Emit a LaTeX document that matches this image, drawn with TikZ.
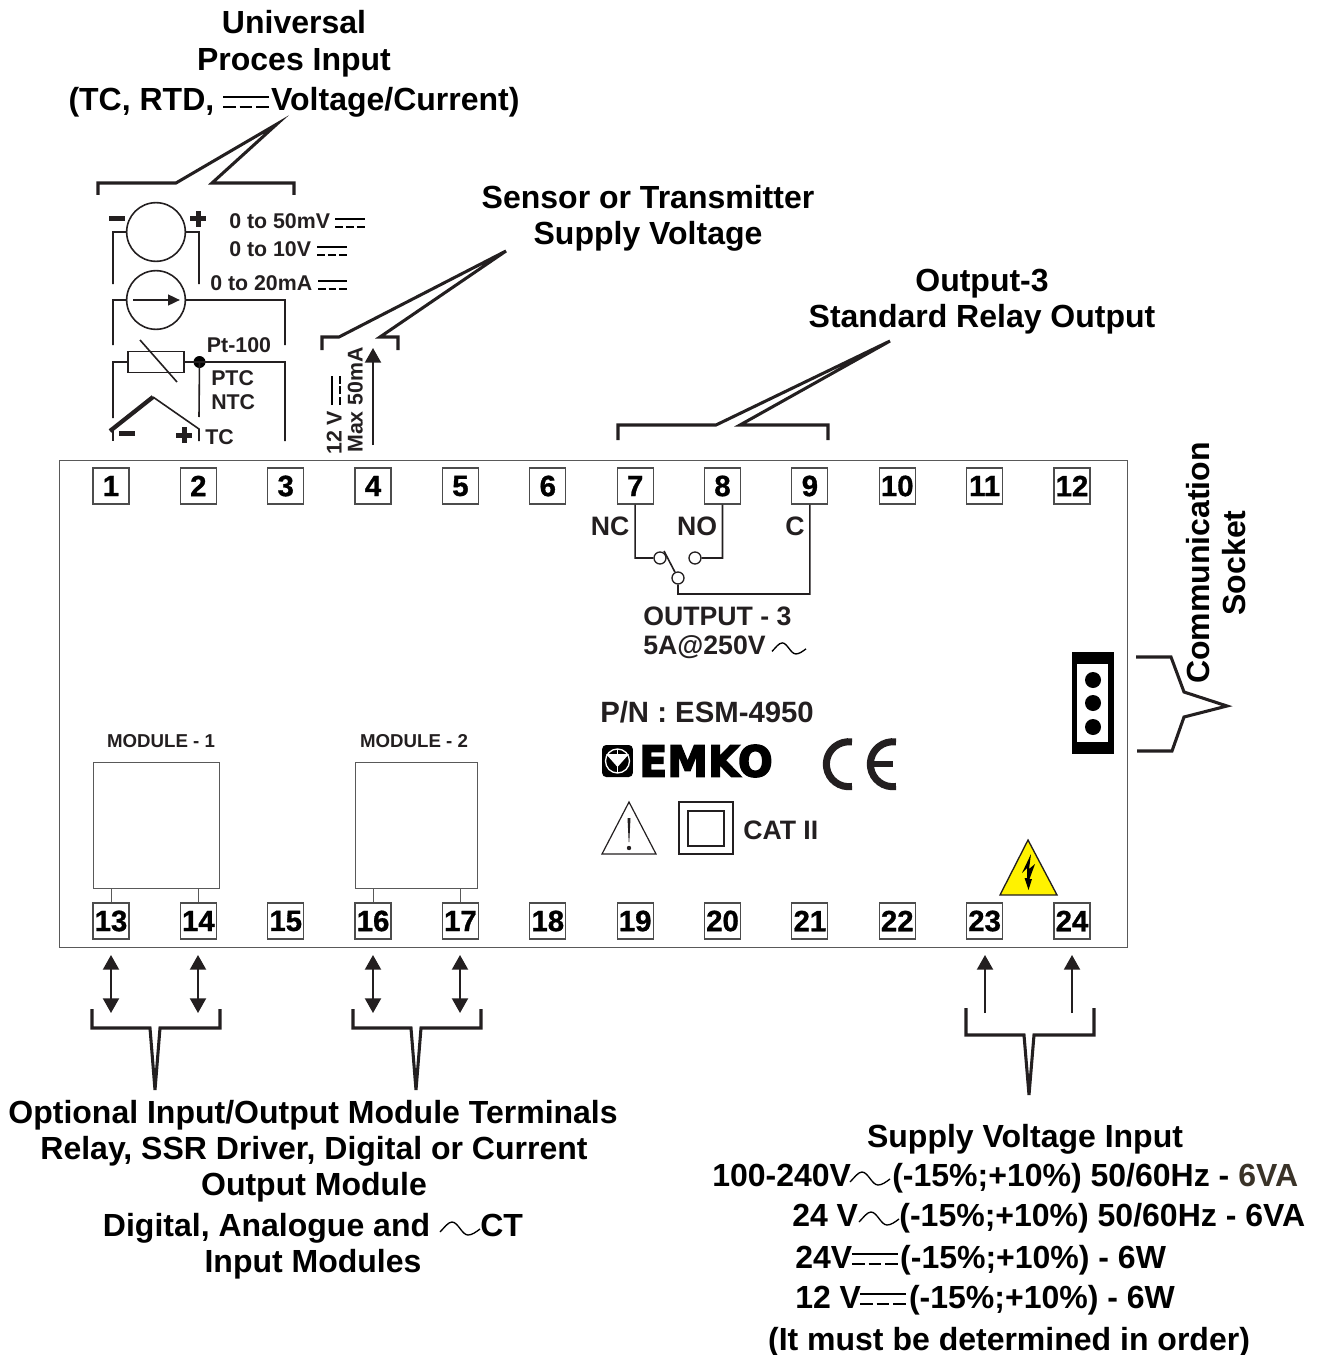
\documentclass[tikz,border=0pt]{standalone}
\usepackage{fontspec}
\setmainfont{Liberation Sans}
\newfontfamily\logofont[FakeBold=3.5]{DejaVu Sans Bold}
\newfontfamily\termfont[FakeBold=1]{Liberation Sans Bold}
\usetikzlibrary{positioning,arrows.meta}
\definecolor{inkdark}{HTML}{231F20}
\definecolor{inkbrown}{HTML}{3A3328}
\definecolor{warnyellow}{HTML}{FFF200}
\newcommand{\gapwd}[1]{\hspace*{#1pt}}
\begin{document}
\begin{tikzpicture}[x=0.75pt,y=-0.75pt,node distance=65.52pt,
    term node/.style={draw=black!70,line width=0.9pt,fill=white,minimum size=27pt,inner sep=0pt,font=\termfont\fontsize{22}{22}\selectfont},
    big label/.style={inner sep=0pt,text height=17.2pt,text depth=0pt,font=\bfseries\fontsize{24}{26}\selectfont},
    mid label/.style={inner sep=0pt,text=inkdark,text height=14.3pt,text depth=0pt,font=\bfseries\fontsize{20}{22}\selectfont},
    small label/.style={inner sep=0pt,text=inkdark,text height=11.5pt,text depth=0pt,font=\bfseries\fontsize{16}{18}\selectfont},
    tiny label/.style={inner sep=0pt,text=inkdark,text height=10pt,text depth=0pt,font=\bfseries\fontsize{14}{16}\selectfont},
    bracket/.style={draw=inkdark,line width=2.3pt,miter limit=12},
    wire/.style={draw=inkdark,line width=1.2pt},
    thin box/.style={draw=black!65,line width=0.7pt},
    contact/.style={circle,draw=inkdark,fill=white,line width=1pt,minimum size=9pt,inner sep=0pt},
    flow arrow/.style={draw=inkdark,line width=1.5pt,-{Triangle[length=11pt,width=12pt]}},
    both arrow/.style={draw=inkdark,line width=1.5pt,{Triangle[length=11pt,width=12pt]}-{Triangle[length=11pt,width=12pt]}},
    dc sym/.pic={\pgfmathsetmacro{\dashon}{#1*0.2045}\pgfmathsetmacro{\dashoff}{#1*0.068}\pgfmathsetmacro{\dashgap}{#1*0.12+4.5}
      \draw[line width=1.1pt] (0,0) -- (#1,0);
      \draw[line width=1.1pt,dash pattern=on \dashon pt off \dashoff pt] (0,\dashgap) -- (#1,\dashgap);},
    dc sym/.default=30,
    ac sym/.pic={\draw[line width=1pt] (0,4) .. controls (4,0) and (8,-6) .. (12,-6) .. controls (18,-6) and (22,7) .. (28,7) .. controls (32,7) and (36,4) .. (40,1);}]

\useasboundingbox (0,0) rectangle (1324,1355);

% case
\draw[thin box] (59,460) rectangle (1127,947);

% terminals
\node[term node] (1) at (111,486) {1};
\node[term node] (2) [right of=1] {2};
\node[term node] (3) [right of=2] {3};
\node[term node] (4) [right of=3] {4};
\node[term node] (5) [right of=4] {5};
\node[term node] (6) [right of=5] {6};
\node[term node] (7) [right of=6] {7};
\node[term node] (8) [right of=7] {8};
\node[term node] (9) [right of=8] {9};
\node[term node] (10) [right of=9] {10};
\node[term node] (11) [right of=10] {11};
\node[term node] (12) [right of=11] {12};

\node[term node] (13) at (111,921) {13};
\node[term node] (14) [right of=13] {14};
\node[term node] (15) [right of=14] {15};
\node[term node] (16) [right of=15] {16};
\node[term node] (17) [right of=16] {17};
\node[term node] (18) [right of=17] {18};
\node[term node] (19) [right of=18] {19};
\node[term node] (20) [right of=19] {20};
\node[term node] (21) [right of=20] {21};
\node[term node] (22) [right of=21] {22};
\node[term node] (23) [right of=22] {23};
\node[term node] (24) [right of=23] {24};

% headings
\node[big label] (universal) at (294,22) {Universal};
\node[big label] (proces) at (294,59) {Proces Input};
\node[big label] (tcrtd) at (294,99) {(TC, RTD, \gapwd{36}Voltage/Current)};
\pic at (223,97) {dc sym=46};

\node[big label] (sensor) at (648,197) {Sensor or Transmitter};
\node[big label] (supply) at (648,233) {Supply Voltage};

\node[big label] (outthree) at (982,280) {Output-3};
\node[big label] (relay) at (982,316) {Standard Relay Output};

\node[big label,rotate=90] (comm) at (1198,563) {Communication};
\node[big label,rotate=90] (socket) at (1234,563) {Socket};

% top brackets
\draw[bracket] (98,195) -- (98,183) -- (176,183) -- (277,124) -- (212,183) -- (294,183) -- (294,195);
\draw[bracket] (322,350) -- (322,337) -- (339,337) -- (506,251) -- (380,337) -- (398,337) -- (398,350);
\draw[bracket] (618,440) -- (618,425) -- (716,425) -- (890,341) -- (740,425) -- (828,425) -- (828,440);
\draw[bracket] (1136,657) -- (1171,657) -- (1184,692) -- (1227,706) -- (1184,717) -- (1172,751) -- (1137,751);

% input side
\node[circle,draw=inkdark,line width=1.2pt,minimum size=44pt,inner sep=0pt] (volt) at (156,232) {};
\node[circle,draw=inkdark,line width=1.2pt,minimum size=44pt,inner sep=0pt] (amp) at (156,300) {};
\node[rectangle,draw=inkdark,line width=1.2pt,minimum width=42pt,minimum height=16pt,inner sep=0pt] (rtd) at (156,362) {};
\node[circle,fill=black,minimum size=9pt,inner sep=0pt] (rtddot) at (199.5,362) {};

\coordinate (voltl) at (113,284);
\coordinate (voltr) at (199,284);
\coordinate (ampl) at (113,345);
\coordinate (ampr) at (285,345);
\coordinate (rtdl) at (113,418);
\coordinate (rtdr) at (285,441);
\coordinate (rtdd) at (199,417);
\coordinate (arrowa) at (133,300);
\coordinate (arrowb) at (180,300);
\coordinate (slasha) at (140,340);
\coordinate (slashb) at (177,382);
\coordinate (tcl) at (110,431);
\coordinate (tcm) at (153,397);
\coordinate (tcr) at (199,429);

\path[wire]
(volt.west) -| (voltl)
(volt.east) -| (voltr)
(amp.west) -| (ampl)
(amp.east) -| (ampr)
(rtd.west) -| (rtdl)
(rtd.east) -- (rtddot.center) -| (rtdr)
(rtddot.center) -- (rtdd);
\draw[wire,-{Triangle[length=9pt,width=8pt]},line width=1.8pt] (arrowa) -- (arrowb);
\draw[wire] (slasha) -- (slashb);
\draw[wire,line width=3.2pt] (tcl) -- (tcm);
\draw[wire] (tcm) -- (tcr) -- (199,441);
\draw[wire] (113,431) -- (113,441);

\fill[inkdark] (109,216.5) rectangle (125,221.5);
\fill[inkdark] (190,216.5) rectangle (206,221.5);
\fill[inkdark] (195.5,211) rectangle (200.5,227);
\fill[inkdark] (119,431) rectangle (135,436);
\fill[inkdark] (176,433) rectangle (192,438);
\fill[inkdark] (181.5,427) rectangle (186.5,443);

\node[small label,anchor=west] (fifty) at (229,221) {0 to 50mV};
\pic at (335,219) {dc sym=30};
\node[small label,anchor=west] (ten) at (229,249) {0 to 10V};
\pic at (317,247) {dc sym=30};
\node[small label,anchor=west] (twenty) at (210,283) {0 to 20mA};
\pic at (318,281) {dc sym=29};
\node[small label] (pt) at (239,345) {Pt-100};
\node[small label,anchor=west] (ptc) at (211,378) {PTC};
\node[small label,anchor=west] (ntc) at (211,402) {NTC};
\node[small label,anchor=west] (tc) at (205,437) {TC};

% sensor supply
\coordinate (supplya) at (373,445);
\coordinate (supplyb) at (373,348);
\draw[flow arrow] (supplya) -- (supplyb);
\node[small label,rotate=90,anchor=west] (twelve) at (334,455) {12 V};
\node[small label,rotate=90,anchor=west] (maxcur) at (355,453) {Max 50mA};
\draw[line width=1.1pt] (332,405) -- (332,376);
\draw[line width=1.1pt,dash pattern=on 6pt off 2pt] (340,405) -- (340,376);

% relay
\node[contact] (nccon) at (660,558) {};
\node[contact] (nocon) at (695,558) {};
\node[contact] (comcon) at (678,578) {};
\coordinate (blade) at (664,551);
\path[wire]
(7.south) |- (nccon)
(8.south) |- (nocon)
(9.south) |- (678,594) -- (comcon)
(blade) -- (comcon);
\node[mid label] (nc) at (610,526) {NC};
\node[mid label] (no) at (697,526) {NO};
\node[mid label] (c) at (795,526) {C};
\node[mid label,anchor=west] (outlabel) at (643,616) {OUTPUT - 3};
\node[mid label,anchor=west] (fivea) at (643,645) {5A@250V};
\pic[scale=0.85] at (772,648) {ac sym};

% part number and marks
\node[inner sep=0pt,text=inkdark,text height=15.8pt,text depth=0pt,font=\bfseries\fontsize{22}{24}\selectfont,anchor=west] (part) at (600,712) {P/N : ESM-4950};
\node[rectangle,rounded corners=3pt,fill=black,minimum width=23pt,minimum height=24pt,inner sep=0pt] (badge) at (617.5,761) {};
\draw[white,line width=1pt] (617.5,761) circle[radius=12];
\fill[white] (606,754) -- (629,754) -- (617.5,767) -- cycle;
\draw[white,line width=1pt] (617.5,749) -- (617.5,773);
\node[inner sep=0pt,anchor=west,xscale=0.96,font=\logofont\fontsize{32}{32}\selectfont] (logo) at (639,761) {EMKO};

\draw[inkdark,line width=5.3pt] (849,786.5) +(3,0) arc[start angle=82,end angle=278,radius=22.5];
\draw[inkdark,line width=5.3pt] (893,786.5) +(3,0) arc[start angle=82,end angle=278,radius=22.5];
\draw[inkdark,line width=4.6pt] (870,764) -- (893,764);

\draw[inkdark,line width=0.9pt,line join=miter] (629,802) -- (656,854) -- (602,854) -- cycle;
\fill[inkdark] (627.5,818) -- (630.5,818) -- (629.3,842) -- (628.7,842) -- cycle;
\fill[inkdark] (629,848) circle[radius=2.2];
\draw[inkdark,line width=0.9pt] (679,802) rectangle (733,854);
\draw[inkdark,line width=0.9pt] (688,811) rectangle (724,846);
\node[mid label,anchor=west] (cat) at (743,830) {CAT II};

% mains warning
\draw[inkdark,fill=warnyellow,line width=1pt] (1028,840) -- (1057,895) -- (1000,895) -- cycle;
\fill[black] (1031,854) -- (1022,873) -- (1027,868) -- (1027,878) -- (1024.5,878) -- (1028.5,890) -- (1032,879) -- (1029.5,879) -- (1035,864) -- (1029,869) -- cycle;

% socket
\fill[black] (1072,652) rectangle (1114,754);
\fill[white] (1077,664) rectangle (1108,742);
\fill[black] (1093,680) circle[radius=8];
\fill[black] (1093,703) circle[radius=8];
\fill[black] (1093,727) circle[radius=8];

% modules
\node[thin box,rectangle,minimum width=95pt,minimum height=95pt,inner sep=0pt] (modone) at (156.5,825.5) {};
\node[thin box,rectangle,minimum width=92pt,minimum height=95pt,inner sep=0pt] (modtwo) at (416.5,825.5) {};
\node[tiny label] (modonelabel) at (161,741) {MODULE - 1};
\node[tiny label] (modtwolabel) at (414,741) {MODULE - 2};
\path[thin box]
(13.north) -- (13.north |- modone.south)
(14.north) -- (14.north |- modone.south)
(16.north) -- (16.north |- modtwo.south)
(17.north) -- (17.north |- modtwo.south);

% bottom arrows
\coordinate (a13) at (111,955);
\coordinate (b13) at (111,1013);
\coordinate (a14) at (198,955);
\coordinate (b14) at (198,1013);
\coordinate (a16) at (373,955);
\coordinate (b16) at (373,1013);
\coordinate (a17) at (460,955);
\coordinate (b17) at (460,1013);
\coordinate (a23) at (985,955);
\coordinate (b23) at (985,1013);
\coordinate (a24) at (1072,955);
\coordinate (b24) at (1072,1013);

\draw[both arrow] (a13) -- (b13);
\draw[both arrow] (a14) -- (b14);
\draw[both arrow] (a16) -- (b16);
\draw[both arrow] (a17) -- (b17);
\draw[flow arrow] (b23) -- (a23);
\draw[flow arrow] (b24) -- (a24);

\draw[bracket] (92,1009) -- (92,1028) -- (150,1028) -- (155,1090) -- (160,1028) -- (220,1028) -- (220,1009);
\draw[bracket] (353,1009) -- (353,1028) -- (411,1028) -- (416,1090) -- (421,1028) -- (481,1028) -- (481,1009);
\draw[bracket] (966,1008) -- (966,1035) -- (1024,1035) -- (1029,1095) -- (1034,1035) -- (1094,1035) -- (1094,1008);

% bottom texts
\node[big label] (optional) at (313,1112) {Optional Input/Output Module Terminals};
\node[big label] (ssr) at (314,1148) {Relay, SSR Driver, Digital or Current};
\node[big label] (outmod) at (314,1184) {Output Module};
\node[big label] (analogue) at (313,1225) {Digital, Analogue and \gapwd{31}CT};
\pic at (440,1228) {ac sym};
\node[big label] (inmod) at (313,1261) {Input Modules};

\node[big label] (supplyin) at (1025,1136) {Supply Voltage Input};
\node[big label,anchor=west] (linea) at (712,1175) {100-240V\gapwd{31}(-15\%;+10\%) 50/60Hz - \textcolor{inkbrown}{6VA}};
\pic at (850,1178) {ac sym};
\node[big label,anchor=west] (lineb) at (792,1215) {24 V\gapwd{31}(-15\%;+10\%) 50/60Hz - 6VA};
\pic at (859,1218) {ac sym};
\node[big label,anchor=west] (linec) at (795,1257) {24V\gapwd{36}(-15\%;+10\%) - 6W};
\pic at (852,1254) {dc sym=46};
\node[big label,anchor=west] (lined) at (795,1297) {12 V\gapwd{36}(-15\%;+10\%) - 6W};
\pic at (860,1294) {dc sym=46};
\node[big label] (order) at (1009,1339) {(It must be determined in order)};

\end{tikzpicture}
\end{document}
